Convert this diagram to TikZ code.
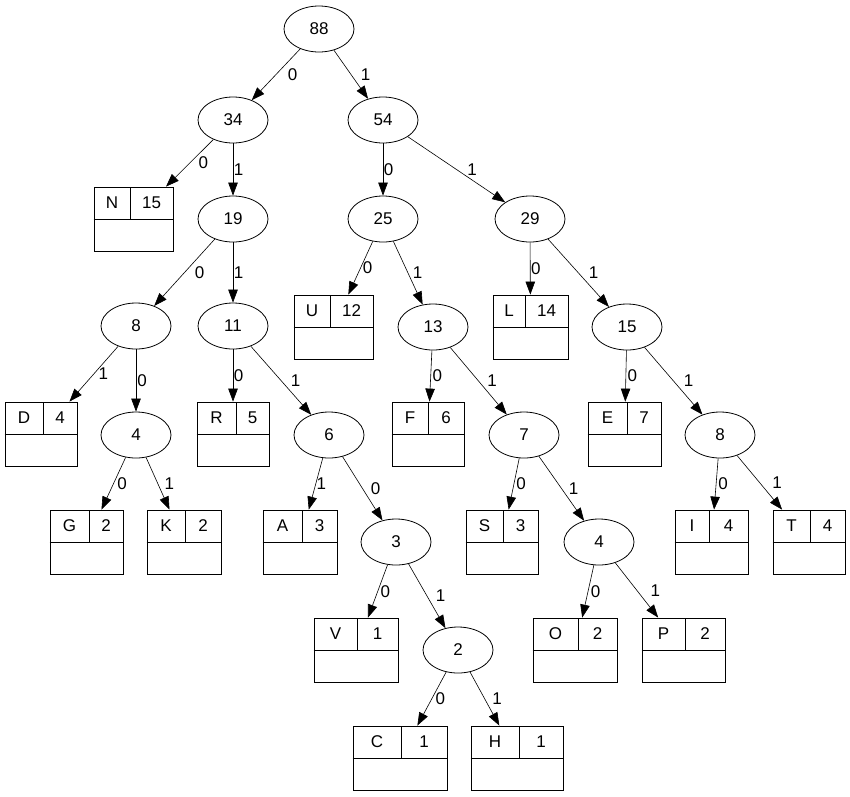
\documentclass[tikz,border=0pt]{standalone}
\usepackage{fontspec}
\setmainfont{Liberation Sans}
\usetikzlibrary{shapes.geometric,arrows.meta}

\tikzset{
  inner/.style={draw, ellipse, line width=0.8pt, minimum width=70pt, minimum height=46pt, inner sep=0pt},
  leaf/.style={draw, rectangle, line width=0.8pt, minimum height=64pt, inner sep=0pt},
  edge/.style={line width=0.6pt, -{Triangle[length=13pt,width=9.5pt]}},
  lbl/.style={midway, right, inner sep=0.5pt}
}

\begin{document}
\begin{tikzpicture}[x=1pt, y=-1pt, font=\fontsize{17}{20}\selectfont]
    \useasboundingbox (0,0) rectangle (850,796);

    % inner nodes of the tree: name/weight/x/y
    \foreach \n/\v/\x/\y in {n88/88/319/29, n34/34/233/120, n54/54/383/120,
        n19/19/233/219, n25/25/383/219, n29/29/530/219,
        n8a/8/136/326, n11/11/233/326, n13/13/433/327, n15/15/627/327,
        n4a/4/136/435, n6/6/329/435, n7/7/524/435, n8b/8/720/435,
        n3/3/396/542, n4b/4/599/542, n2/2/458/650} {
        \node[inner] (\n) at (\x,\y) {\v};
    }

    % leaves: name/letter/left/divider/right/top/count
    \foreach \n/\c/\l/\d/\r/\t/\k in {lN/N/94/130/173/187/15,
        lU/U/294/330/373/295/12, lL/L/493/525/568/295/14,
        lD/D/5/43/77/402/4, lR/R/197/236/269/402/5, lF/F/392/428/464/402/6, lE/E/588/627/661/402/7,
        lG/G/50/89/123/510/2, lK/K/147/185/221/510/2, lA/A/263/302/337/510/3,
        lS/S/466/503/538/510/3, lI/I/675/709/748/510/4, lT/T/773/810/845/510/4,
        lV/V/314/357/398/618/1, lO/O/533/578/617/618/2, lP/P/642/685/725/618/2,
        lC/C/353/401/447/726/1, lH/H/471/519/563/726/1} {
        \node[leaf, minimum width={(\r-\l)*1pt}] (\n) at ({(\l+\r)/2},{\t+32}) {};
        \draw[line width=0.8pt] (\n.west) -- (\n.east);
        \draw[line width=0.8pt] ({\d},{\t}) -- ({\d},{\t+32});
        \node at ({(\l+\d)/2},{\t+16}) {\c};
        \node at ({(\d+\r)/2},{\t+16}) {\k};
    }

    % edges: from/to/bit/label shift
    \foreach \a/\b/\l/\s in {n88/n34/0/11, n88/n54/1/9,
        n34/lN/0/8, n34/n19/1/0, n54/n25/0/0, n54/n29/1/10,
        n19/n8a/0/9.5, n19/n11/1/0, n25/lU/0/1.5, n25/n13/1/4, n29/lL/0/0, n29/n15/1/9.5,
        n8a/lD/1/4, n8a/n4a/0/0.5, n11/lR/0/0, n11/n6/1/9,
        n13/lF/0/1, n13/n7/1/8, n15/lE/0/1, n15/n8b/1/9.5,
        n4a/lG/0/3, n4a/lK/1/6, n6/lA/1/0, n6/n3/0/7.5,
        n7/lS/0/1.5, n7/n4b/1/6.5, n8b/lI/0/1.5, n8b/lT/1/12,
        n3/lV/0/2, n3/n2/1/8, n4b/lO/0/2, n4b/lP/1/13,
        n2/lC/0/3, n2/lH/1/7} {
        \draw[edge] (\a) -- node[lbl, xshift=\s pt] {\l} (\b);
    }
\end{tikzpicture}
\end{document}
